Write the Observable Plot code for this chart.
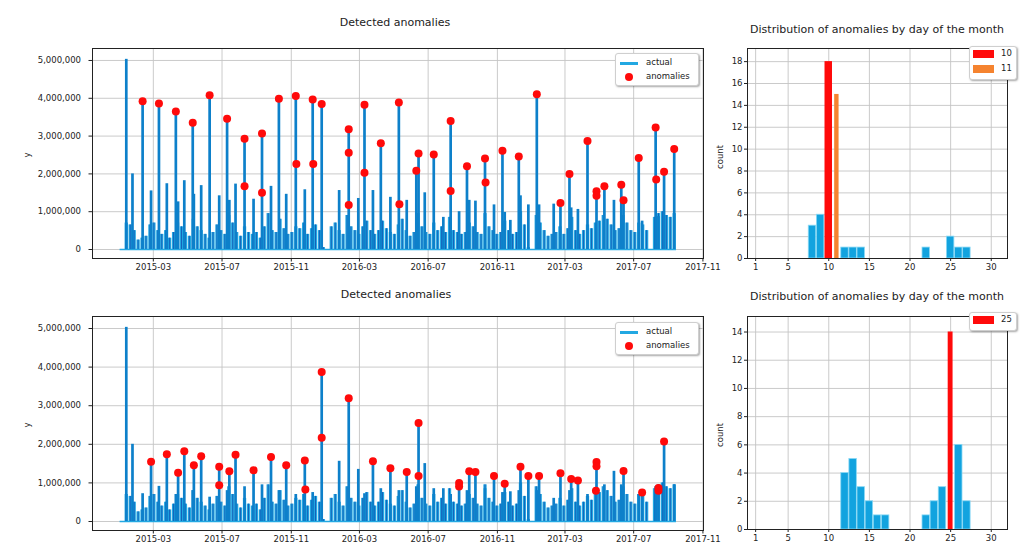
<!DOCTYPE html>
<html><head><meta charset="utf-8">
<script src="https://cdn.jsdelivr.net/npm/d3@7"></script>
<script src="https://cdn.jsdelivr.net/npm/@observablehq/plot@0.6"></script>
<style>
body{margin:0;background:#fff;font-family:"DejaVu Sans",sans-serif;}
#wrap{position:relative;width:1022px;height:548px;overflow:hidden;background:#fff;}
.title{position:absolute;font-size:11px;color:#222;white-space:nowrap;transform:translate(-50%,-50%);}
.vlab{position:absolute;font-size:8.5px;color:#222;white-space:nowrap;transform:translate(-50%,-50%) rotate(-90deg);}
.legend{position:absolute;background:#fff;border:1px solid #cfcfcf;border-radius:3px;box-shadow:1px 1px 2px rgba(0,0,0,0.35);font-size:8.5px;color:#222;}
.legend span{position:absolute;white-space:nowrap;}
svg{position:absolute;}
</style></head><body><div id="wrap"></div>
<script>
// ---------- data ----------
const UNIT = 1000; // series values below are in thousands
const seriesStart = "2015-01-01", seriesEnd = "2017-09-15";
const firstWeek = "2015-01-05";
// weekly level of the everyday traffic (thousands), one value per week from firstWeek
const baseWeekly = [0,700,650,500, 250,300,350,650, 700,500,400,500,300, 450,700,600,450, 350,800,600,500, 400,300,450,650,500, 400,900,700,450, 350,600,450,400,450, 300,600,950,500, 450,800,550,400, 450,600,550,700,400, 550,650,500,50,
 0,600,700,500, 400,900,600,500,400, 600,750,500,400, 500,750,550,450, 400,650,800,500,350, 450,950,600,450, 400,700,500,600, 450,850,500,450,400, 450,700,600,450, 400,950,600,500,400, 450,750,500,400, 450,1000,650,50,
 0,900,700,500,350, 400,450,600,400, 550,850,500,400, 500,650,550,700, 750,900,800,650,500, 550,900,700,500, 450,700,650,500,0, 850,950,1000,900, 850,950];

// spikes present in both series (thousands)
const sharedSpikeDates = ["2015-01-12","2015-01-23","2015-02-25","2015-03-25","2015-04-14","2015-04-25","2015-05-12","2015-05-25","2015-06-26","2015-07-14","2015-07-25","2015-08-26","2015-09-26","2015-10-23","2015-11-25","2015-12-25","2016-01-25","2016-02-11","2016-02-28","2016-03-25","2016-04-25","2016-05-24","2016-06-14","2016-06-25","2016-07-28","2016-08-25","2016-09-12","2016-09-23","2016-10-26","2016-11-14","2016-11-24","2016-12-12","2016-12-26","2017-01-14","2017-02-21","2017-03-12","2017-03-24","2017-04-26","2017-05-27","2017-06-13","2017-07-16","2017-08-14","2017-08-24"];
const sharedSpikeValues = [5030,2000,1550,1740,1260,1820,1460,1690,1420,1300,1730,1330,1670,1460,1580,3870,1560,3190,1350,1560,1380,1300,2550,1500,850,1000,1300,1280,1180,980,770,1420,1180,1180,1250,1100,1060,1540,1300,1310,750,870,2070];

// monthly spikes around the 10th: tall in the upper series, small in the lower one (thousands)
const monthlySpikeDates = ["2015-02-10","2015-03-11","2015-04-10","2015-05-10","2015-06-09","2015-07-10","2015-08-10","2015-09-10","2015-10-10","2015-11-09","2015-12-09","2016-03-10","2016-04-08","2016-05-10","2016-06-10","2016-07-11","2016-08-10","2016-09-08","2016-10-10","2016-11-10","2016-12-09","2017-01-10","2017-02-09","2017-03-09","2017-04-10","2017-05-10","2017-06-09","2017-07-10","2017-08-09","2017-09-11"];
const topMonthlyValues = [3920,3860,3650,3350,4080,3460,2930,3070,3990,4060,3970,3830,2810,3890,2080,2510,3400,2200,2410,2610,2460,4110,1200,2000,2870,1670,1710,2420,3230,2660];
const bottomMonthlyValues = [720,910,700,800,630,800,900,950,800,700,750,720,850,800,900,850,700,800,850,750,800,800,600,800,700,950,950,700,900,950];

// detected anomalies (thousands)
const topAnomalyDates = ["2015-02-10","2015-03-11","2015-04-10","2015-05-10","2015-06-09","2015-07-10","2015-08-10","2015-08-10","2015-09-10","2015-09-10","2015-10-10","2015-11-09","2015-11-10","2015-12-09","2015-12-10","2015-12-25","2016-02-11","2016-02-11","2016-02-11","2016-03-10","2016-03-10","2016-04-08","2016-05-10","2016-05-11","2016-06-10","2016-06-14","2016-07-11","2016-08-10","2016-08-10","2016-09-08","2016-10-10","2016-10-11","2016-11-10","2016-12-09","2017-01-10","2017-02-21","2017-03-09","2017-04-10","2017-04-26","2017-04-26","2017-05-10","2017-06-09","2017-06-13","2017-07-10","2017-08-09","2017-08-10","2017-08-24","2017-09-11"];
const topAnomalyValues = [3920,3860,3650,3350,4080,3460,2930,1670,3070,1500,3990,4060,2260,3970,2260,3850,3180,2560,1180,3830,2030,2810,3890,1200,2080,2540,2510,3400,1550,2200,2410,1770,2610,2460,4110,1230,2000,2870,1540,1420,1670,1710,1300,2420,3230,1850,2060,2660];
const bottomAnomalyDates = ["2015-02-25","2015-03-25","2015-04-14","2015-04-25","2015-05-12","2015-05-25","2015-06-26","2015-06-26","2015-07-14","2015-07-25","2015-08-26","2015-09-26","2015-10-23","2015-11-25","2015-11-26","2015-12-25","2015-12-25","2016-02-11","2016-03-25","2016-04-25","2016-05-24","2016-06-14","2016-06-14","2016-08-25","2016-08-25","2016-09-12","2016-09-23","2016-10-26","2016-11-14","2016-12-12","2016-12-26","2017-01-14","2017-02-21","2017-03-12","2017-03-24","2017-04-26","2017-04-26","2017-04-25","2017-06-13","2017-07-16","2017-08-14","2017-08-14","2017-08-24"];
const bottomAnomalyValues = [1550,1740,1260,1820,1460,1690,1420,940,1300,1730,1330,1670,1460,1580,830,3870,2170,3190,1560,1380,1280,2550,1180,1000,910,1300,1280,1180,980,1420,1180,1180,1250,1100,1060,1540,1430,800,1310,750,870,800,2070];

// distribution of anomalies by day of month
const topDays = [8,9,10,11,12,13,14,22,25,26,27];
const topCounts = [3,4,18,15,1,1,1,1,2,1,1];
const topHighlight = [10, 11];
const bottomDays = [12,13,14,15,16,17,22,23,24,25,26,27];
const bottomCounts = [4,5,3,2,1,1,1,2,3,14,6,2];
const bottomHighlight = [25];

const xTickDates = ["2015-03-01","2015-07-01","2015-11-01","2016-03-01","2016-07-01","2016-11-01","2017-03-01","2017-07-01","2017-11-01"];
const yTicks = [0,1000000,2000000,3000000,4000000,5000000];
const dayTicks = [1,5,10,15,20,25,30];

// ---------- styling ----------
const C = {light:"#22a8e2", mid:"#1458b4", spike:"#0d80ca", red:"#ff0a0a", orange:"#f5832f", bar:"#12a3df", barEdge:"#8ad9f5", grid:"#c4c4c4", ink:"#222"};
const font = {fontFamily:"DejaVu Sans, sans-serif", fontSize:"8.5px", color:C.ink, background:"transparent", overflow:"visible"};
const wrap = document.getElementById("wrap");
const P = d3.utcParse("%Y-%m-%d");

const weekly = baseWeekly.map((v,i)=>({date:d3.utcDay.offset(P(firstWeek),7*i), value:v*UNIT}));
const toRows = (ds, vs) => ds.map((d,i)=>({date:P(d), value:vs[i]*UNIT}));
const shared = toRows(sharedSpikeDates, sharedSpikeValues);
const xDomain = [P("2014-11-13"), P("2017-11-02")];
const xTicks = xTickDates.map(P);

function seriesPanel({spikes, anomalies, yDomain, height, mt, mb}) {
  return Plot.plot({
    width: 710, height, marginLeft: 92, marginRight: 7, marginTop: mt, marginBottom: mb,
    style: font,
    x: {type:"utc", domain: xDomain},
    y: {domain: yDomain},
    marks: [
      Plot.gridX(xTicks, {stroke:C.grid, strokeOpacity:1, strokeWidth:0.9}),
      Plot.gridY(yTicks, {stroke:C.grid, strokeOpacity:1, strokeWidth:0.9}),
      Plot.ruleY([{y:0, a:P(seriesStart), b:P(seriesEnd)}], {y:"y", x1:"a", x2:"b", stroke:C.light, strokeWidth:1.6}),
      Plot.ruleX(weekly, {x:"date", y1:0, y2:"value", stroke:C.light, strokeWidth:3.3}),
      Plot.ruleX(weekly, {x:"date", y1:0, y2:"value", stroke:C.mid, strokeWidth:0.9}),
      Plot.ruleX(spikes, {x:"date", y1:0, y2:"value", stroke:C.spike, strokeWidth:2.7}),
      Plot.dot(anomalies, {x:"date", y:"value", r:4, fill:C.red, stroke:null}),
      Plot.frame({stroke:C.ink, strokeWidth:1}),
      Plot.axisX(xTicks, {tickFormat:d3.utcFormat("%Y-%m"), tickSize:3.5, tickPadding:2, label:null}),
      Plot.axisY(yTicks, {tickFormat:d3.format(","), tickSize:3.5, tickPadding:8, label:null})
    ]
  });
}

function histPanel({days, counts, highlight, hiColors, hiHalf, yMax, yT, height, mt, mb}) {
  const rows = days.map((d,i)=>({day:d, count:counts[i]}));
  const normal = rows.filter(r=>!highlight.includes(r.day));
  const marks = [
    Plot.gridX(dayTicks, {stroke:C.grid, strokeOpacity:1, strokeWidth:0.9}),
    Plot.gridY(yT, {stroke:C.grid, strokeOpacity:1, strokeWidth:0.9}),
    Plot.rect(normal, {x1:d=>d.day-0.46, x2:d=>d.day+0.46, y1:0, y2:"count", fill:C.bar, stroke:C.barEdge, strokeWidth:0.8})
  ];
  highlight.forEach((h,k)=>{
    marks.push(Plot.rect(rows.filter(r=>r.day===h), {x1:d=>d.day-hiHalf[k], x2:d=>d.day+hiHalf[k], y1:0, y2:"count", fill:hiColors[k]}));
  });
  marks.push(Plot.frame({stroke:C.ink, strokeWidth:1}),
    Plot.axisX(dayTicks, {tickSize:3, tickPadding:2, label:null}),
    Plot.axisY(yT, {tickSize:3, tickPadding:2, label:null}));
  return Plot.plot({width:322, height, marginLeft:47, marginRight:15, marginTop:mt, marginBottom:mb,
    style: font, x:{domain:[0,32]}, y:{domain:[0,yMax]}, marks});
}

function place(node, left, top){ node.style.left = left+"px"; node.style.top = top+"px"; wrap.appendChild(node); }
function text(cls, str, x, y){ const d=document.createElement("div"); d.className=cls; d.textContent=str; d.style.left=x+"px"; d.style.top=y+"px"; wrap.appendChild(d); }

// top row
place(seriesPanel({spikes: shared.concat(toRows(monthlySpikeDates, topMonthlyValues)),
  anomalies: toRows(topAnomalyDates, topAnomalyValues), yDomain:[-238000, 5317000], height:280, mt:48, mb:22}), 0, 0);
place(histPanel({days:topDays, counts:topCounts, highlight:topHighlight, hiColors:[C.red, C.orange], hiHalf:[0.46,0.27],
  yMax:19.2, yT:d3.range(0,19,2), height:280, mt:48, mb:22}), 700, 0);
// bottom row
place(seriesPanel({spikes: shared.concat(toRows(monthlySpikeDates, bottomMonthlyValues)),
  anomalies: toRows(bottomAnomalyDates, bottomAnomalyValues), yDomain:[-233000, 5311000], height:268, mt:36, mb:18}), 0, 280);
place(histPanel({days:bottomDays, counts:bottomCounts, highlight:bottomHighlight, hiColors:[C.red], hiHalf:[0.3],
  yMax:15.1, yT:d3.range(0,15,2), height:268, mt:36, mb:19}), 700, 280);

// titles and axis labels
text("title","Detected anomalies",395,22);
text("title","Distribution of anomalies by day of the month",877,29);
text("title","Detected anomalies",396,294);
text("title","Distribution of anomalies by day of the month",877,296);
text("vlab","y",27,155);
text("vlab","y",27,425);
text("vlab","count",720,157);
text("vlab","count",720,435);

// legends
function seriesLegend(top){
  const L=document.createElement("div"); L.className="legend";
  Object.assign(L.style,{left:"615px", top:top+"px", width:"82px", height:"31px"});
  L.innerHTML = `<div style="position:absolute;left:4px;top:8px;width:18px;height:2.5px;background:${C.light}"></div>
  <span style="left:30px;top:3px">actual</span>
  <div style="position:absolute;left:9px;top:19px;width:8px;height:8px;border-radius:50%;background:${C.red}"></div>
  <span style="left:30px;top:17px">anomalies</span>`;
  wrap.appendChild(L);
}
seriesLegend(53); seriesLegend(322);
function histLegend(top, items){
  const L=document.createElement("div"); L.className="legend";
  Object.assign(L.style,{left:"969px", top:top+"px", width:"46px", height:(items.length*15+2)+"px"});
  L.innerHTML = items.map((it,i)=>`<div style="position:absolute;left:3px;top:${3+i*15}px;width:21px;height:8px;background:${it[1]}"></div><span style="left:31px;top:${1+i*15}px">${it[0]}</span>`).join("");
  wrap.appendChild(L);
}
histLegend(46, [[String(topHighlight[0]), C.red],[String(topHighlight[1]), C.orange]]);
histLegend(312, [[String(bottomHighlight[0]), C.red]]);
</script></body></html>
